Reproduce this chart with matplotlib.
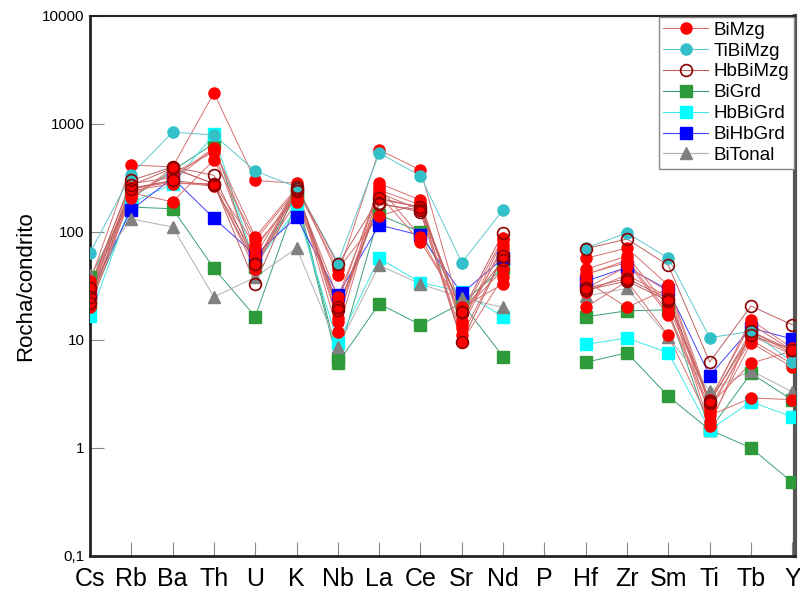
import numpy as np
import matplotlib
matplotlib.use("Agg")
import matplotlib.pyplot as plt
from matplotlib.ticker import FixedLocator, FixedFormatter, NullLocator

plt.rcParams['font.family'] = ['Liberation Sans', 'DejaVu Sans']

elements = ["Cs", "Rb", "Ba", "Th", "U", "K", "Nb", "La", "Ce", "Sr", "Nd", "P",
            "Hf", "Zr", "Sm", "Ti", "Tb", "Y"]
nan = np.nan

# Chondrite-normalised values (P not analysed)
BiMzg = [
    [35, 417, 400, 1936, 300, 282, 40, 575, 375, 17, 88, nan, 57, 71, 32, 2.7, 15.3, 8.4],
    [28, 255, 300, 590, 90, 255, 14.7, 282, 197, 13, 76, nan, 41, 52, 17, 2.2, 11, 7.3],
    [22, 230, 190, 465, 84, 245, 11.8, 245, 178, 9.6, 38, nan, 20, 35, 11, 1.74, 9.4, 5.6],
    [25, 205, 390, 278, 75, 205, 19, 220, 81, 20, 33, nan, 35, 20, 30, 2.5, 6.1, 7.9],
    [30, 250, 290, 265, 60, 260, 16, 200, 170, 15, 70, nan, 30, 48, 28, 2.0, 2.9, 2.8],
    [32, 280, 320, 600, 70, 230, 25, 230, 160, 11, 60, nan, 28, 40, 25, 1.6, 12, 7.5],
    [20, 220, 350, 550, 50, 190, 22, 260, 90, 18, 45, nan, 40, 55, 18, 2.4, 10, 6.0],
    [27, 240, 280, 280, 45, 250, 45, 140, 185, 14, 85, nan, 45, 60, 20, 2.8, 14, 8.0],
]
TiBiMzg = [
    [64, 340, 840, 790, 367, 260, 52, 537, 331, 52, 160, nan, 71, 98, 57, 10.5, 12, 6.25],
]
HbBiMzg = [
    [30, 300, 400, 335, 51, 260, 50, 205, 170, 18, 98, nan, 70, 86, 49, 6.25, 20.6, 13.8],
    [25, 270, 390, 280, 33, 250, 20, 185, 153, 9.6, 60, nan, 30, 37, 24, 2.7, 11, 8.1],
    [22, 250, 300, 270, 50, 240, 19, 180, 160, 18, 55, nan, 29, 35, 23, 2.6, 12, 8.0],
]
BiGrd = [
    [38, 205, 370, 660, 47, 220, 6.8, 144, 100, 22, 46, nan, 16.4, 18.6, 19, 1.47, 4.9, 2.78],
    [22, 170, 164, 46, 16.4, 200, 6.1, 21.6, 13.8, 22, 7, nan, 6.2, 7.6, 3.0, 1.47, 1.0, 0.48],
]
HbBiGrd = [
    [16.6, 185, 280, 800, 50, 163, 9.4, 57, 34, 28, 16.4, nan, 9.1, 10.4, 7.6, 1.47, 2.67, 1.94],
]
BiHbGrd = [
    [27, 160, 316, 134, 61, 137, 26, 116, 93, 27, 57, nan, 35, 47, 29, 4.67, 12.9, 10.2],
]
BiTonal = [
    [40, 132, 111, 25, 38, 71, 8.6, 49, 33, 24.5, 20, nan, 25.5, 30, 10.6, 3.4, 5.2, 3.3],
]

fig = plt.figure(figsize=(8, 5.92), dpi=100)
ax = fig.add_axes([0.1125, 0.061, 0.8815, 0.912])
x = np.arange(len(elements))

styles = [
    ("BiGrd", BiGrd, '#3aa07a', dict(marker='s', mfc='#2e9a3a', mec='#2e9a3a', ms=8)),
    ("HbBiGrd", HbBiGrd, '#40e8e8', dict(marker='s', mfc='#00ffff', mec='#00ffff', ms=8)),
    ("BiHbGrd", BiHbGrd, '#4040ff', dict(marker='s', mfc='#0000ff', mec='#0000ff', ms=8)),
    ("BiTonal", BiTonal, '#b0b0b0', dict(marker='^', mfc='#808080', mec='#808080', ms=8.5)),
    ("BiMzg", BiMzg, '#d87070', dict(marker='o', mfc='#ff0000', mec='#ff0000', ms=8)),
    ("TiBiMzg", TiBiMzg, '#60c8d0', dict(marker='o', mfc='#33c0c8', mec='#33c0c8', ms=8)),
    ("HbBiMzg", HbBiMzg, '#c06060', dict(marker='o', mfc='none', mec='#8b0000', ms=8.5, mew=1.2)),
]
handles = {}
for name, data, lc, st in styles:
    for i, row in enumerate(data):
        ax.plot(x, row, lw=0.7, color=lc, zorder=2)
        ax.plot(x, row, lw=0, zorder=3, **st)
        if i == 0:
            h, = ax.plot([], [], lw=0.8, color=lc, **st)
            handles[name] = h

ax.set_yscale('log')
ax.set_ylim(0.1, 10000)
ax.set_xlim(0, 17.07)
ax.yaxis.set_major_locator(FixedLocator([0.1, 1, 10, 100, 1000, 10000]))
ax.yaxis.set_major_formatter(FixedFormatter(["0,1", "1", "10", "100", "1000", "10000"]))
ax.yaxis.set_minor_locator(NullLocator())
ax.set_xticks(x)
ax.set_xticklabels(elements, fontsize=18)
ax.tick_params(axis='y', direction='in', length=10, color='#888888', labelsize=11, pad=4)
ax.tick_params(axis='x', direction='in', length=10, color='#888888', pad=8)
ax.set_ylabel("Rocha/condrito", fontsize=16, labelpad=4)

ax.spines['left'].set_linewidth(2)
ax.spines['left'].set_color('#222222')
ax.spines['bottom'].set_linewidth(2)
ax.spines['bottom'].set_color('#222222')
ax.spines['top'].set_linewidth(1.5)
ax.spines['top'].set_color('#222222')
ax.spines['right'].set_linewidth(3)
ax.spines['right'].set_color('#555555')

order = ["BiMzg", "TiBiMzg", "HbBiMzg", "BiGrd", "HbBiGrd", "BiHbGrd", "BiTonal"]
leg = ax.legend([handles[k] for k in order], order, loc='upper right', fontsize=13.5,
                frameon=True, fancybox=False, edgecolor='#888888', framealpha=1,
                borderaxespad=0.05, handlelength=2.4, handletextpad=0.3,
                labelspacing=0.2, borderpad=0.25)
leg.get_frame().set_linewidth(1.0)

fig.savefig("out.png", dpi=100)
